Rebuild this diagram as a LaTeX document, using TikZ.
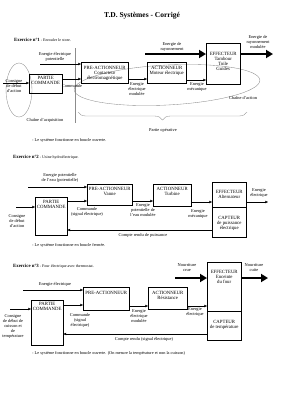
\documentclass[tikz,border=0pt]{standalone}
\usepackage{fontspec}
\setmainfont{Liberation Serif}
\usetikzlibrary{arrows.meta,decorations.pathreplacing}
\begin{document}
\begin{tikzpicture}[x=1pt,y=-1pt,
  box/.style={draw, line width=0.45pt, inner sep=0pt, anchor=north west},
  blab/.style={font=\fontsize{4.8}{5}\selectfont, align=center, inner sep=0pt, anchor=north},
  ann/.style={font=\fontsize{4.4}{5}\selectfont, align=center, inner sep=0pt},
  note/.style={font=\fontsize{4.3}{5}\selectfont, anchor=west, inner sep=0pt},
  arr/.style={line width=0.4pt, -{Triangle[length=2.6pt,width=2.4pt]}},
  big/.style={line width=2.4pt, -{Triangle[length=7pt,width=8pt]}},
  guide/.style={draw=black!45, line width=0.35pt},
  ]
\useasboundingbox (0,0) rectangle (283,400);

\node[font=\fontsize{7.5}{8}\selectfont\bfseries] (title) at (142,16) {T.D. Systèmes - Corrigé};

% ================= Exercice 1 =================
\node[anchor=west, inner sep=0pt] (ex1) at (14,40) {{\fontsize{4.8}{5}\selectfont\bfseries Exercice n°1}{\fontsize{4}{5}\selectfont\ - Enrouler le store.}};

\draw[guide] (75,48) -- (75,123);
\draw[guide, rotate around={3:(167,85)}] (167,85) ellipse [x radius=93pt, y radius=20pt];
\draw[guide] (19,90) ellipse [x radius=13pt, y radius=27pt];

\node[box, minimum width=47pt, minimum height=21pt, label={[blab, anchor=north, yshift=-4.4pt]north:{PRE-ACTIONNEUR\\Contacteur\\électromagnétique}}] (pa1) at (81,62) {};
\node[box, minimum width=33pt, minimum height=19pt, label={[blab, anchor=north, yshift=-2.4pt]north:{PARTIE\\COMMANDE}}] (pc1) at (29,74) {};
\node[box, minimum width=39pt, minimum height=21pt, label={[blab, anchor=north, yshift=-4.4pt]north:{ACTIONNEUR\\Moteur électrique}}] (ac1) at (147,62) {};
\node[box, minimum width=34pt, minimum height=41pt, label={[blab, anchor=north, yshift=-9.4pt]north:{EFFECTEUR\\Tambour\\Toile\\Guides}}] (ef1) at (206,43) {};

\node[ann] (t1a) at (55,56.5) {Energie électrique\\potentielle};
\coordinate (e1) at (40,64);
\draw[arr] (e1) -- (pa1.west |- e1);

\node[ann] (t1b) at (14,86) {Consigne\\de début\\d'action};
\coordinate (in1) at (3,83);
\draw[arr] (in1) -- (pc1.west |- in1);

\draw[arr] (pc1.east |- 0,79) -- (pa1.west |- 0,79);
\node[ann] (t1c) at (72,86) {Commande};
\draw[arr] (pa1.east |- 0,79) -- (ac1.west |- 0,79);
\node[ann] (t1d) at (137,89.5) {Energie\\électrique\\modulée};
\draw[arr] (ac1.east |- 0,80) -- (ef1.west |- 0,80);
\node[ann] (t1e) at (197,87.5) {Energie\\mécanique};

\coordinate (r1) at (145,54);
\draw[big] (r1) -- (ef1.west |- r1);
\node[ann] (t1f) at (172,46.5) {Energie de\\rayonnement};
\coordinate (r1o) at (273,54);
\draw[big] (ef1.east |- r1o) -- (r1o);
\node[ann] (t1g) at (258,42) {Energie de\\rayonnement\\modulée};

\node[ann] (t1h) at (243,98) {Chaîne d'action};
\node[ann] (t1i) at (45,120) {Chaîne d'acquisition};
\draw[guide, decorate, decoration={brace, amplitude=8pt, mirror}] (78,112) -- (247,112);
\node[ann] (t1j) at (163,130) {Partie opérative};
\node[note] (n1) at (32,140) {- Le système fonctionne en boucle ouverte.};

% ================= Exercice 2 =================
\node[anchor=west, inner sep=0pt] (ex2) at (13,157) {{\fontsize{4.8}{5}\selectfont\bfseries Exercice n°2}{\fontsize{4}{5}\selectfont\ - Usine hydroélectrique.}};

\node[box, minimum width=45pt, minimum height=21pt, label={[blab, anchor=north, yshift=-3.4pt]north:{PRE-ACTIONNEUR\\Vanne}}] (pa2) at (87,184) {};
\node[box, minimum width=32pt, minimum height=38pt, label={[blab, anchor=north, yshift=-3.4pt]north:{PARTIE\\COMMANDE}}] (pc2) at (35,197) {};
\node[box, minimum width=38pt, minimum height=22pt, label={[blab, anchor=north, yshift=-3.4pt]north:{ACTIONNEUR\\Turbine}}] (ac2) at (153,184) {};
\node[box, minimum width=34pt, minimum height=25pt, label={[blab, anchor=north, yshift=-8.4pt]north:{EFFECTEUR\\Alternateur}}] (ef2) at (212,182) {};
\node[box, minimum width=34pt, minimum height=30pt, label={[blab, anchor=north, yshift=-9.4pt]north:{CAPTEUR\\de puissance\\électrique}}] (cp2) at (212,207) {};

\node[ann] (t2a) at (60,178) {Energie potentielle\\de l'eau (potentielle)};
\coordinate (e2) at (28,187);
\draw[arr] (e2) -- (pa2.west |- e2);
\node[ann] (t2b) at (17,221.5) {Consigne\\de début\\d'action};
\coordinate (in2) at (16,207);
\draw[arr] (in2) -- (pc2.west |- in2);
\draw[arr] (pc2.east |- 0,201) -- (pa2.west |- 0,201);
\node[ann] (t2c) at (87,211.5) {Commande\\(signal électrique)};
\draw[arr] (pa2.east |- 0,201) -- (ac2.west |- 0,201);
\node[ann] (t2d) at (143,210) {Energie\\potentielle de\\l'eau modulée};
\draw[arr] (ac2.east |- 0,202) -- (ef2.west |- 0,202);
\node[ann] (t2e) at (198,214.5) {Energie\\mécanique};
\coordinate (o2) at (268,202);
\draw[arr] (ef2.east |- o2) -- (o2);
\node[ann] (t2f) at (259,193.5) {Energie\\électrique};
\draw[arr] (cp2.west |- 0,230) -- (pc2.east |- 0,230);
\node[ann] (t2g) at (143,235) {Compte rendu de puissance};
\node[note] (n2) at (32,245) {- Le système fonctionne en boucle fermée.};

% ================= Exercice 3 =================
\node[anchor=west, inner sep=0pt] (ex3) at (13,266) {{\fontsize{4.8}{5}\selectfont\bfseries Exercice n°3}{\fontsize{4}{5}\selectfont\ - Four électrique avec thermostat.}};

\node[box, minimum width=46pt, minimum height=23pt, label={[blab, anchor=north, yshift=-4.4pt]north:{PRE-ACTIONNEUR}}] (pa3) at (83,287) {};
\node[box, minimum width=32pt, minimum height=45pt, label={[blab, anchor=north, yshift=-2.4pt]north:{PARTIE\\COMMANDE}}] (pc3) at (31,300) {};
\node[box, minimum width=39pt, minimum height=22pt, label={[blab, anchor=north, yshift=-4.4pt]north:{ACTIONNEUR\\Résistance}}] (ac3) at (148,287) {};
\node[box, minimum width=34pt, minimum height=49pt, label={[blab, anchor=north, yshift=-8.4pt]north:{EFFECTEUR\\Enceinte\\du four}}] (ef3) at (207,262) {};
\node[box, minimum width=34pt, minimum height=29pt, label={[blab, anchor=north, yshift=-9.4pt]north:{CAPTEUR\\de température}}] (cp3) at (207,311) {};

\node[ann] (t3a) at (55,284) {Energie électrique};
\coordinate (e3) at (23,290);
\draw[arr] (e3) -- (pa3.west |- e3);
\node[ann] (t3b) at (13,326.5) {Consigne\\de début de\\cuisson et\\de\\température};
\coordinate (in3) at (10,309);
\draw[arr] (in3) -- (pc3.west |- in3);
\draw[arr] (pc3.east |- 0,305) -- (pa3.west |- 0,305);
\node[ann] (t3c) at (80,320) {Commande\\(signal\\électrique)};
\draw[arr] (pa3.east |- 0,306) -- (ac3.west |- 0,306);
\node[ann] (t3d) at (139,316) {Energie\\électrique\\modulée};
\draw[arr] (ac3.east |- 0,306) -- (ef3.west |- 0,306);
\node[ann] (t3e) at (195,312.5) {Energie\\électrique};
\coordinate (r3) at (175,278);
\draw[big] (r3) -- (ef3.west |- r3);
\node[ann] (t3f) at (187,267.5) {Nourriture\\crue};
\coordinate (r3o) at (268,278);
\draw[big] (ef3.east |- r3o) -- (r3o);
\node[ann] (t3g) at (254,267.5) {Nourriture\\cuite};
\draw[arr] (cp3.west |- 0,334) -- (pc3.east |- 0,334);
\node[ann] (t3h) at (144,339) {Compte rendu (signal électrique)};
\node[note] (n3) at (32,353) {- Le système fonctionne en boucle ouverte. (On mesure la température et non la cuisson)};
\end{tikzpicture}
\end{document}
